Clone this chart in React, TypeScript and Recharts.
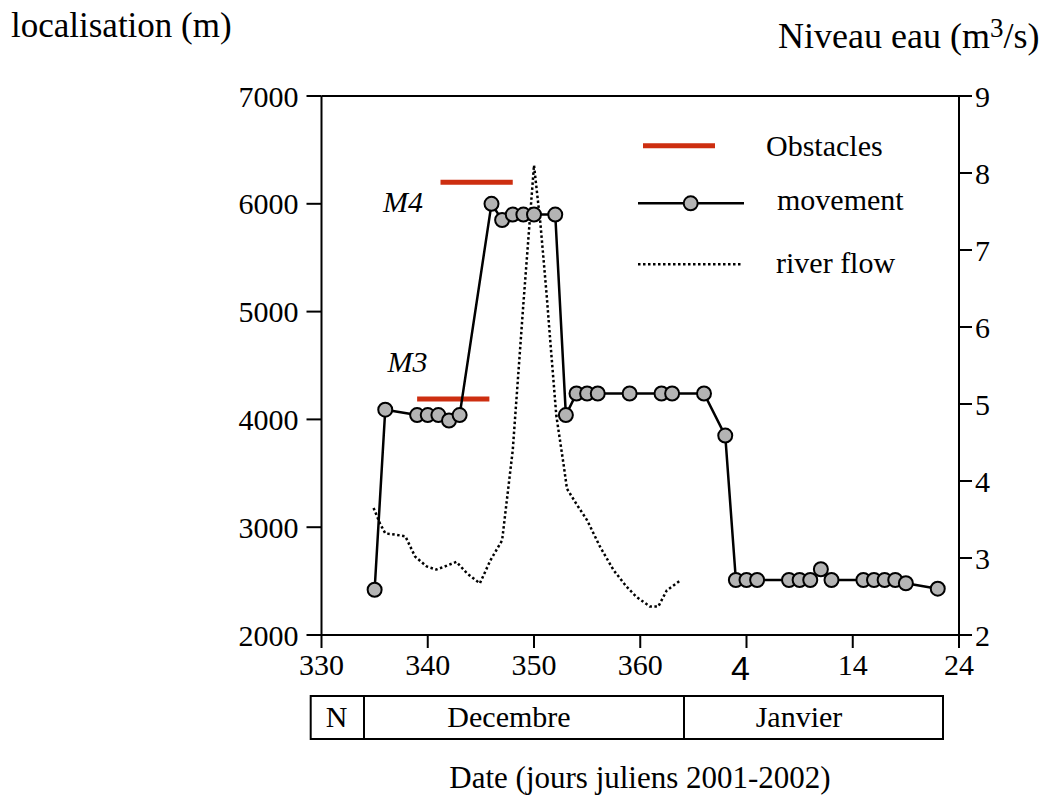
import React from 'react';
import { LineChart, Line, XAxis, YAxis, ReferenceLine } from 'recharts';

const SERIF = 'Liberation Serif, Times New Roman, Times, serif';
const SANS = 'Liberation Sans, Arial, Helvetica, sans-serif';
const RED = '#cd2e10';
const GREY = '#b4b4b4';

// x axis: day index (Jan d = 366 + d)
const xTicks = [330, 340, 350, 360, 370, 380, 390];
const xTickLabels = ['330', '340', '350', '360', '4', '14', '24'];
const leftTicks = [2000, 3000, 4000, 5000, 6000, 7000];
const rightTicks = [2, 3, 4, 5, 6, 7, 8, 9];

const movementDays = [335, 336, 339, 340, 341, 342, 343, 346, 347, 348, 349, 350, 352, 353, 354, 355, 356, 359, 362, 363, 366, 368, 369, 370, 371, 374, 375, 376, 377, 378, 381, 382, 383, 384, 385, 388];
const movementLoc = [2420, 4090, 4040, 4040, 4040, 3990, 4040, 6000, 5850, 5900, 5900, 5900, 5900, 4040, 4240, 4240, 4240, 4240, 4240, 4240, 4240, 3850, 2510, 2510, 2510, 2510, 2510, 2510, 2610, 2510, 2510, 2510, 2510, 2510, 2480, 2430];

const flowDays = [334.9, 335.5, 336, 337.1, 337.9, 338.8, 339.9, 340.8, 341.8, 342.7, 343.7, 344.9, 345.9, 347, 348, 349, 350, 350.6, 351.2, 351.6, 352.1, 352.8, 353.1, 354, 355, 356.2, 357.5, 358.7, 359.6, 360.9, 361.7, 362.5, 363.8];
const flowValues = [3.65, 3.45, 3.32, 3.3, 3.28, 3.02, 2.89, 2.85, 2.9, 2.95, 2.8, 2.67, 2.97, 3.23, 4.4, 6.3, 8.1, 7.35, 6.4, 5.7, 4.85, 4.2, 3.9, 3.7, 3.49, 3.15, 2.84, 2.63, 2.5, 2.37, 2.37, 2.58, 2.71];

const obstacleM3Days = [339, 345.8];
const obstacleM3Loc = 4190;
const obstacleM4Days = [341.2, 348];
const obstacleM4Loc = 6200;

const movementData = movementDays.map((x, i) => ({ x, y: movementLoc[i] }));
const flowData = flowDays.map((x, i) => ({ x, y: flowValues[i] }));
const obsM3Data = obstacleM3Days.map((x) => ({ x, y: obstacleM3Loc }));
const obsM4Data = obstacleM4Days.map((x) => ({ x, y: obstacleM4Loc }));

const XTick = (props: any) => {
  const { x, y, payload } = props;
  const i = xTicks.indexOf(payload.value);
  const label = i >= 0 ? xTickLabels[i] : String(payload.value);
  if (label === '4') {
    return (
      <text x={x - 6} y={y} dy={26} textAnchor="middle" fontFamily={SANS} fontSize={34} fill="#000">
        {label}
      </text>
    );
  }
  return (
    <text x={x} y={y} dy={21} textAnchor="middle" fontFamily={SERIF} fontSize={30} fill="#000">
      {label}
    </text>
  );
};

const YTickLeft = (props: any) => {
  const { x, y, payload } = props;
  return (
    <text x={x} y={y} dy={10.5} textAnchor="end" fontFamily={SERIF} fontSize={30} fill="#000">
      {String(payload.value)}
    </text>
  );
};

const YTickRight = (props: any) => {
  const { x, y, payload } = props;
  return (
    <text x={x} y={y} dy={10.5} textAnchor="start" fontFamily={SERIF} fontSize={30} fill="#000">
      {String(payload.value)}
    </text>
  );
};

const MoveDot = (props: any) => {
  const { cx, cy, index } = props;
  if (cx == null || cy == null) return <g key={index} />;
  return <circle key={index} cx={cx} cy={cy} r={7} fill={GREY} stroke="#000" strokeWidth={2} />;
};

const axisStyle = { stroke: '#000', strokeWidth: 2 };

export default function App() {
  return (
    <div style={{ position: 'absolute', left: 0, top: 0, width: 1046, height: 798, overflow: 'hidden', background: '#fff' }}>
      <style>{'body{margin:0;overflow:hidden;}'}</style>
      <LineChart
        width={1046}
        height={798}
        margin={{ top: 96, right: 7, bottom: 103, left: 241.5 }}
      >
        <XAxis
          dataKey="x"
          type="number"
          domain={[330, 390]}
          ticks={xTicks}
          interval={0}
          allowDataOverflow
          height={60}
          tickSize={13}
          tickMargin={6}
          axisLine={axisStyle}
          tickLine={axisStyle}
          tick={<XTick />}
        />
        <YAxis
          yAxisId="left"
          orientation="left"
          type="number"
          domain={[2000, 7000]}
          ticks={leftTicks}
          interval={0}
          width={80}
          tickSize={15}
          tickMargin={8}
          axisLine={axisStyle}
          tickLine={axisStyle}
          tick={<YTickLeft />}
        />
        <YAxis
          yAxisId="right"
          orientation="right"
          type="number"
          domain={[2, 9]}
          ticks={rightTicks}
          interval={0}
          width={80}
          tickSize={13}
          tickMargin={3}
          axisLine={axisStyle}
          tickLine={axisStyle}
          tick={<YTickRight />}
        />
        <ReferenceLine yAxisId="left" y={7000} stroke="#000" strokeWidth={2} />
        <Line
          yAxisId="right"
          data={flowData}
          dataKey="y"
          type="linear"
          stroke="#000"
          strokeWidth={2.5}
          strokeDasharray="2.5 2.5"
          dot={false}
          activeDot={false}
          isAnimationActive={false}
        />
        <Line
          yAxisId="left"
          data={obsM3Data}
          dataKey="y"
          type="linear"
          stroke={RED}
          strokeWidth={5}
          dot={false}
          activeDot={false}
          isAnimationActive={false}
        />
        <Line
          yAxisId="left"
          data={obsM4Data}
          dataKey="y"
          type="linear"
          stroke={RED}
          strokeWidth={5}
          dot={false}
          activeDot={false}
          isAnimationActive={false}
        />
        <Line
          yAxisId="left"
          data={movementData}
          dataKey="y"
          type="linear"
          stroke="#000"
          strokeWidth={2.5}
          dot={<MoveDot />}
          activeDot={false}
          isAnimationActive={false}
        />
      </LineChart>
      <svg
        width={1046}
        height={798}
        style={{ position: 'absolute', left: 0, top: 0, pointerEvents: 'none' }}
      >
        {/* axis titles */}
        <text x={11} y={37} fontFamily={SERIF} fontSize={35} fill="#000">localisation (m)</text>
        <text x={778} y={48} fontFamily={SERIF} fontSize={36} fill="#000">
          Niveau eau (m
          <tspan fontSize={27} dy={-11}>3</tspan>
          <tspan dy={11}>/s)</tspan>
        </text>

        {/* annotations */}
        <text x={383} y={211.5} fontFamily={SERIF} fontStyle="italic" fontSize={30} fill="#000">M4</text>
        <text x={387.5} y={371.5} fontFamily={SERIF} fontStyle="italic" fontSize={30} fill="#000">M3</text>

        {/* legend */}
        <line x1={643} y1={145.7} x2={715} y2={145.7} stroke={RED} strokeWidth={5} />
        <text x={766} y={156} fontFamily={SERIF} fontSize={30} fill="#000">Obstacles</text>
        <line x1={638} y1={203.3} x2={744} y2={203.3} stroke="#000" strokeWidth={2.5} />
        <circle cx={690.7} cy={203.3} r={7} fill={GREY} stroke="#000" strokeWidth={2} />
        <text x={777} y={210} fontFamily={SERIF} fontSize={30} fill="#000">movement</text>
        <line x1={638} y1={264.3} x2={742} y2={264.3} stroke="#000" strokeWidth={2.5} strokeDasharray="2.5 2.5" />
        <text x={776} y={273} fontFamily={SERIF} fontSize={30} fill="#000">river flow</text>

        {/* month band */}
        <rect x={310.7} y={696} width={632.3} height={43} fill="none" stroke="#000" strokeWidth={2} />
        <line x1={364} y1={696} x2={364} y2={739} stroke="#000" strokeWidth={2} />
        <line x1={684} y1={696} x2={684} y2={739} stroke="#000" strokeWidth={2} />
        <text x={336.5} y={727} textAnchor="middle" fontFamily={SERIF} fontSize={30} fill="#000">N</text>
        <text x={509} y={727} textAnchor="middle" fontFamily={SERIF} fontSize={30} fill="#000">Decembre</text>
        <text x={799} y={727} textAnchor="middle" fontFamily={SERIF} fontSize={30} fill="#000">Janvier</text>

        {/* x title */}
        <text x={640} y={788} textAnchor="middle" fontFamily={SERIF} fontSize={31} fill="#000">Date (jours juliens 2001-2002)</text>
      </svg>
    </div>
  );
}
